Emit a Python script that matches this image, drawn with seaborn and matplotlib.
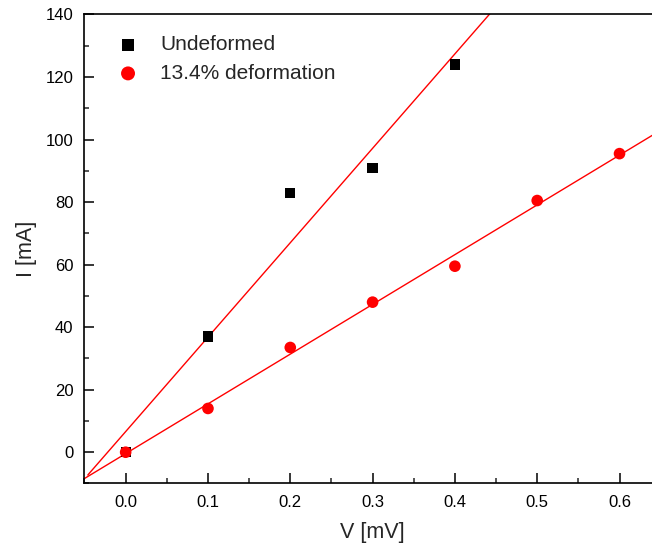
import numpy as np
import pandas as pd
import matplotlib
matplotlib.use("Agg")
import matplotlib.pyplot as plt
import seaborn as sns
from matplotlib.ticker import MultipleLocator

# Data
v_undeformed = [0.0, 0.1, 0.2, 0.3, 0.4]
i_undeformed = [0.0, 37.0, 83.0, 91.0, 124.0]
v_deformed = [0.0, 0.1, 0.2, 0.3, 0.4, 0.5, 0.6]
i_deformed = [0.0, 14.0, 33.5, 48.0, 59.5, 80.5, 95.5]
label_undeformed = "Undeformed"
label_deformed = "13.4% deformation"

sns.set_theme(style="ticks")
plt.rcParams['font.family'] = ['Liberation Sans', 'DejaVu Sans']

fig = plt.figure(figsize=(6.52, 5.47), dpi=100)
ax = fig.add_axes([0.1296, 0.1161, 0.8837, 0.8574])

df_u = pd.DataFrame({"V": v_undeformed, "I": i_undeformed})
df_d = pd.DataFrame({"V": v_deformed, "I": i_deformed})

# linear fits
pu = np.polyfit(df_u["V"], df_u["I"], 1)
pd_ = np.polyfit(df_d["V"], df_d["I"], 1)
xu = np.array([-0.046, 0.5])
xd = np.array([-0.05, 0.65])
ax.plot(xu, np.polyval(pu, xu), color="red", lw=1.0, zorder=2)
ax.plot(xd, np.polyval(pd_, xd), color="red", lw=1.0, zorder=2)

sns.scatterplot(data=df_u, x="V", y="I", ax=ax, marker="s", color="black",
                s=55, edgecolor="none", label=label_undeformed, zorder=3)
sns.scatterplot(data=df_d, x="V", y="I", ax=ax, marker="o", color="red",
                s=70, edgecolor="none", label=label_deformed, zorder=4)

ax.set_xlim(-0.05, 0.65)
ax.set_ylim(-10, 140)
ax.xaxis.set_major_locator(MultipleLocator(0.1))
ax.xaxis.set_minor_locator(MultipleLocator(0.05))
ax.yaxis.set_major_locator(MultipleLocator(20))
ax.yaxis.set_minor_locator(MultipleLocator(10))
ax.xaxis.set_major_formatter(matplotlib.ticker.FormatStrFormatter('%.1f'))
ax.tick_params(which="major", direction="in", length=7, width=1.1, labelsize=12,
               top=False, right=False, pad=8, colors="black")
ax.tick_params(which="minor", direction="in", length=3.5, width=1.1,
               top=False, right=False)
for sp in ax.spines.values():
    sp.set_linewidth(1.2)
    sp.set_color("black")

ax.set_xlabel("V [mV]", fontsize=15.5, labelpad=9)
ax.set_ylabel("I [mA]", fontsize=15.5, labelpad=6)

leg = ax.legend(loc="upper left", bbox_to_anchor=(0.043, 0.973), frameon=False,
                borderaxespad=0, fontsize=15, handlelength=1.0, handletextpad=1.05,
                labelspacing=0.45, markerscale=1.2)

fig.savefig("out.png", dpi=100)
